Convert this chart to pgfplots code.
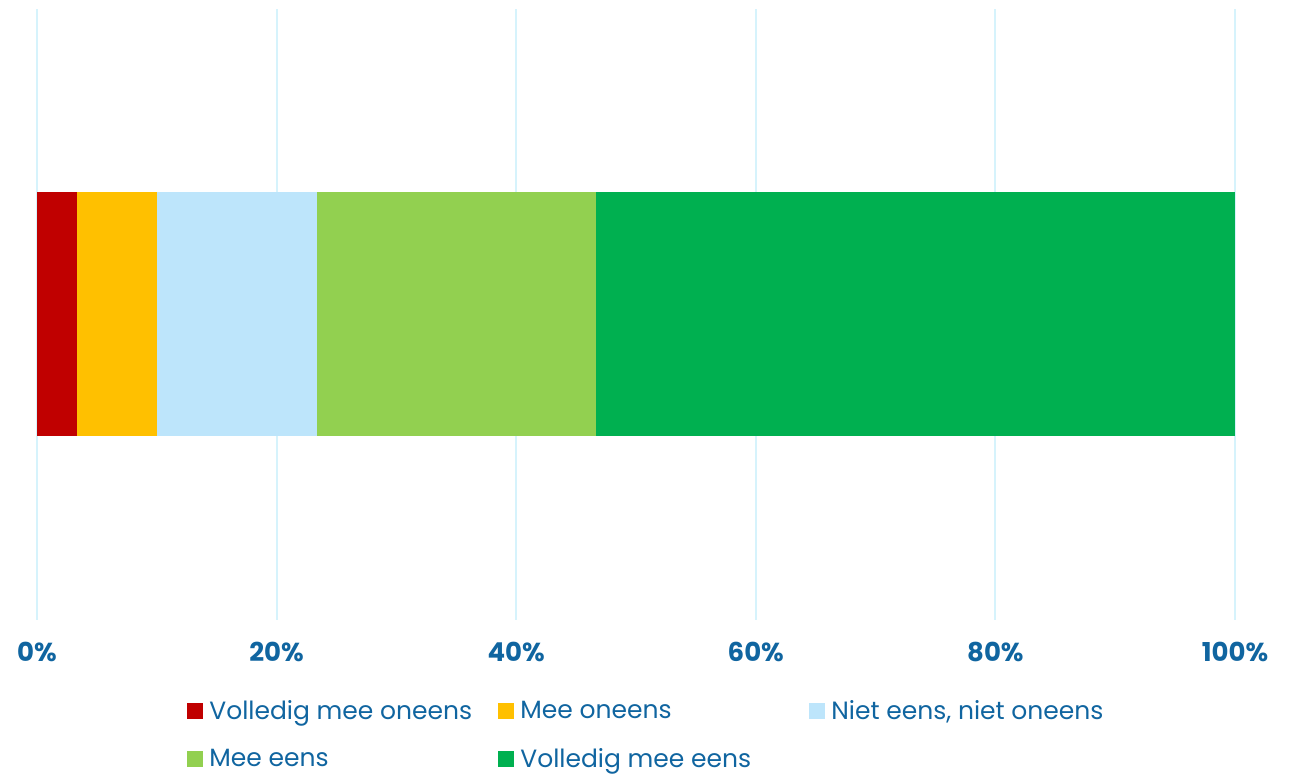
\documentclass[border=0pt]{standalone}
\usepackage{pgfplots}
\pgfplotsset{compat=1.18}
\usepackage{fontspec}
\setmainfont{Poppins}
\definecolor{txt}{RGB}{16,101,160}
\definecolor{gridc}{RGB}{214,243,252}
\definecolor{c1}{RGB}{192,0,0}
\definecolor{c2}{RGB}{255,192,0}
\definecolor{c3}{RGB}{189,229,251}
\definecolor{c4}{RGB}{146,208,80}
\definecolor{c5}{RGB}{0,176,80}
\begin{document}
\begin{tikzpicture}
\useasboundingbox (-18.5pt,-78pt) rectangle (630.5pt,310pt);
\begin{axis}[
  scale only axis,
  width=599pt, height=305.5pt,
  xmin=0, xmax=100, ymin=-1, ymax=1,
  xbar stacked, bar width=122pt,
  axis line style={draw=none},
  major tick length=0pt,
  ytick=\empty,
  xtick={0,20,40,60,80,100},
  xticklabels={0\%,20\%,40\%,60\%,80\%,100\%},
  xticklabel style={anchor=base, yshift=-21pt, font=\fontsize{13}{15}\selectfont\bfseries, text=txt},
  xmajorgrids,
  grid style={draw=gridc, line width=1pt},
  legend columns=3,
  legend cell align=left,
  legend style={at={(75pt,-40pt)}, anchor=north west, draw=none, fill=none, inner sep=0pt,
    nodes={inner sep=0pt, text=txt, font=\fontsize{12.5}{15}\selectfont},
    row sep=13pt,
    /tikz/every odd column/.append style={column sep=3pt}},
  legend image code/.code={\fill[#1,draw=none] (0pt,-4pt) rectangle (8pt,4pt);},
]
\addplot[fill=c1, draw=none] coordinates {(3.333,0)};
\addplot[fill=c2, draw=none] coordinates {(6.667,0)};
\addplot[fill=c3, draw=none] coordinates {(13.333,0)};
\addplot[fill=c4, draw=none] coordinates {(23.333,0)};
\addplot[fill=c5, draw=none] coordinates {(53.333,0)};
\legend{\makebox[144.5pt][l]{Volledig mee oneens},\makebox[144.5pt][l]{Mee oneens},\makebox[144.5pt][l]{Niet eens, niet oneens},\makebox[144.5pt][l]{Mee eens},\makebox[144.5pt][l]{Volledig mee eens}}
\end{axis}
\end{tikzpicture}
\end{document}
